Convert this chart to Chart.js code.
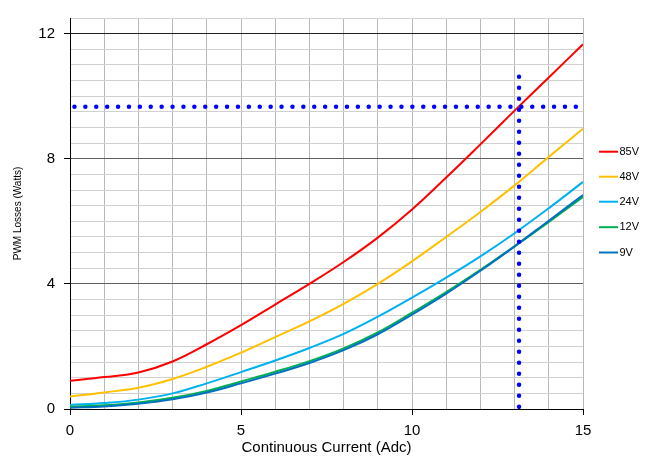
<!DOCTYPE html>
<html>
<head>
<meta charset="utf-8">
<script src="https://cdn.jsdelivr.net/npm/chart.js@4.4.1/dist/chart.umd.min.js"></script>
<style>
html,body{margin:0;padding:0;background:#fff;}
#wrap{width:667px;height:459px;position:relative;}
</style>
</head>
<body>
<div id="wrap"><canvas id="c" width="667" height="459"></canvas></div>
<script>
// ---- data ----
const current = [0,1,2,3,4,5,6,7,8,9,10,11,12,13,14,15];
const v85 = [0.9,1.02,1.17,1.52,2.07,2.68,3.34,4.0,4.7,5.48,6.38,7.4,8.46,9.54,10.6,11.66];
const v48 = [0.4,0.53,0.68,0.96,1.35,1.8,2.3,2.8,3.36,4.0,4.72,5.5,6.3,7.15,8.06,8.96];
const v24 = [0.13,0.19,0.3,0.5,0.82,1.18,1.55,1.95,2.4,2.95,3.56,4.2,4.88,5.62,6.42,7.26];
const v12 = [0.07,0.12,0.21,0.36,0.58,0.88,1.19,1.53,1.94,2.45,3.08,3.74,4.45,5.2,5.98,6.78];
const v9  = [0.04,0.08,0.17,0.31,0.53,0.82,1.13,1.47,1.88,2.39,3.02,3.69,4.42,5.2,6.02,6.84];
const seriesNames = ['85V','48V','24V','12V','9V'];
const refLevelY = 9.66;
const refHX = [0.13, 15];
const refCurrentX = 13.13;
const refVY = [10.62, 0];
const xTickLabels = [0,5,10,15];
const yTickLabels = [0,4,8,12];

const colors = ['#ff0000','#ffc000','#00b0f0','#00b050','#0070c0'];
const seriesVals = [v85,v48,v24,v12,v9];

const pts = arr => current.map((x,i)=>({x:x,y:arr[i]}));

const datasets = [];
datasets.push({label:'refH', data: refHX.map(x=>({x:x,y:refLevelY})), borderColor:'#0000ff', borderWidth:4.5,
  borderDash:[0,10.9], borderCapStyle:'round', pointRadius:0, fill:false, isRef:true, order:0});
datasets.push({label:'refV', data: refVY.map(y=>({x:refCurrentX,y:y})), borderColor:'#0000ff', borderWidth:4.5,
  borderDash:[0,11], borderCapStyle:'round', pointRadius:0, fill:false, isRef:true, order:0});
seriesNames.forEach((n,i)=>{
  datasets.push({label:n, data:pts(seriesVals[i]), borderColor:colors[i], backgroundColor:colors[i],
    borderWidth:2, pointRadius:0, fill:false, tension:0.4, order: 1 + (i===4 ? 0 : (i===3?1:i+1))});
});

const legendPlugin = {
  id:'customLegend',
  afterDraw(chart){
    const ctx = chart.ctx;
    ctx.save();
    ctx.font = '11px "Liberation Sans", Arial, sans-serif';
    ctx.textBaseline = 'middle';
    ctx.fillStyle = '#000';
    const ys = [151.7,176.7,201.7,227.2,252.5];
    let k = 0;
    chart.data.datasets.forEach(ds=>{
      if (ds.isRef) return;
      const y = ys[k++];
      ctx.strokeStyle = ds.borderColor;
      ctx.lineWidth = 2;
      ctx.beginPath(); ctx.moveTo(599,y); ctx.lineTo(618,y); ctx.stroke();
      ctx.fillText(ds.label, 619.5, y);
    });
    ctx.restore();
  }
};

const isMajorX = v => xTickLabels.includes(v);
const isMajorY = v => yTickLabels.includes(v);

new Chart(document.getElementById('c'), {
  type:'line',
  data:{datasets},
  options:{
    responsive:false,
    animation:false,
    devicePixelRatio:1,
    layout:{padding:{left:0,top:17,right:84,bottom:0}},
    plugins:{legend:{display:false}, tooltip:{enabled:false}},
    scales:{
      x:{
        type:'linear', min:0, max:15,
        ticks:{stepSize:1, autoSkip:false, maxRotation:0, padding:7, color:'#000',
          font:{family:'"Liberation Sans", Arial, sans-serif', size:15},
          callback:v=> isMajorX(v) ? String(v) : ''},
        grid:{color:'#b8b8b8', lineWidth:1, tickLength:6,
          tickColor: c => (c.tick && isMajorX(c.tick.value)) ? '#000' : 'rgba(0,0,0,0)'},
        border:{display:true, color:'#000', width:1},
        title:{display:true, text:'Continuous Current (Adc)', color:'#000',
          font:{family:'"Liberation Sans", Arial, sans-serif', size:15}, padding:{top:0,bottom:2}},
        afterFit: s => { s.height = 50; }
      },
      y:{
        min:0, max:12.5,
        ticks:{stepSize:0.5, autoSkip:false, padding:9, color:'#000',
          font:{family:'"Liberation Sans", Arial, sans-serif', size:15},
          callback:v=> isMajorY(v) ? String(v) : ''},
        grid:{lineWidth:1, tickLength:6,
          color: c => { const v = c.tick ? c.tick.value : 0; if (v===12) return '#202020'; if (isMajorY(v)) return '#606060'; return '#d0d0d0'; },
          tickColor: c => (c.tick && isMajorY(c.tick.value)) ? '#000' : 'rgba(0,0,0,0)'},
        border:{display:true, color:'#000', width:1},
        title:{display:true, text:'PWM Losses (Watts)', color:'#000',
          font:{family:'"Liberation Sans", Arial, sans-serif', size:10}, padding:{top:12,bottom:0}},
        afterFit: s => { s.width = 70; }
      }
    }
  },
  plugins:[legendPlugin]
});
</script>
</body>
</html>
